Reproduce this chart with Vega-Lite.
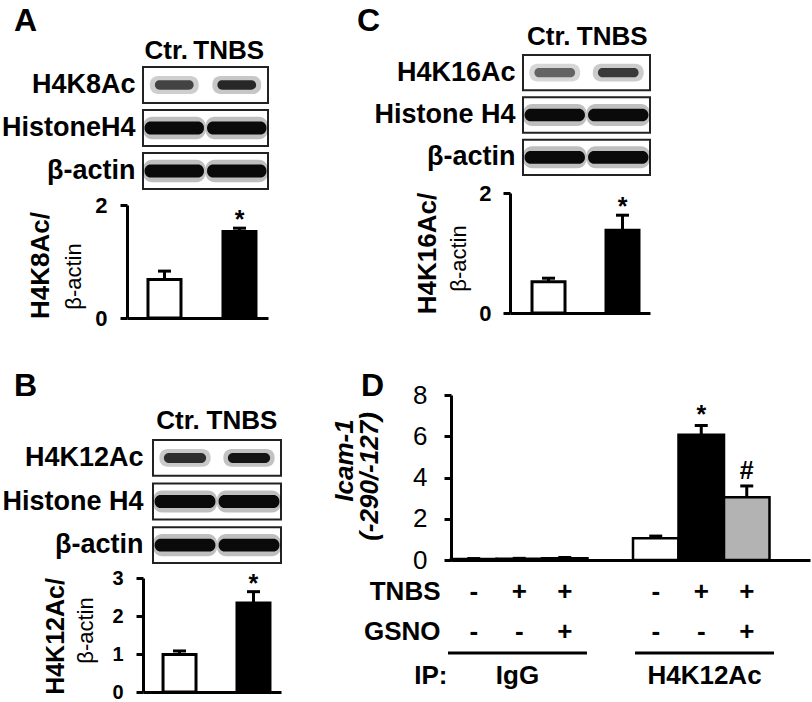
{
  "$schema": "https://vega.github.io/schema/vega-lite/v6.json",
  "width": 812,
  "height": 702,
  "autosize": {"type": "none"},
  "padding": 0,
  "background": "white",
  "config": {
    "view": {"stroke": null},
    "font": "Liberation Sans",
    "axis": {"grid": false, "labelFont": "Liberation Sans", "titleFont": "Liberation Sans", "labelColor": "black", "titleColor": "black", "domainColor": "black", "tickColor": "black"}
  },
  "datasets": {
    "blots": [
      {"panel": "A", "row": "H4K8Ac", "kind": "acetyl", "lane": "Ctr.", "intensity": 0.75},
      {"panel": "A", "row": "H4K8Ac", "kind": "acetyl", "lane": "TNBS", "intensity": 0.88},
      {"panel": "A", "row": "HistoneH4", "kind": "histone", "lane": "Ctr.", "intensity": 1},
      {"panel": "A", "row": "HistoneH4", "kind": "histone", "lane": "TNBS", "intensity": 1},
      {"panel": "A", "row": "β-actin", "kind": "actin", "lane": "Ctr.", "intensity": 1},
      {"panel": "A", "row": "β-actin", "kind": "actin", "lane": "TNBS", "intensity": 1},
      {"panel": "B", "row": "H4K12Ac", "kind": "acetyl", "lane": "Ctr.", "intensity": 0.85},
      {"panel": "B", "row": "H4K12Ac", "kind": "acetyl", "lane": "TNBS", "intensity": 0.97},
      {"panel": "B", "row": "Histone H4", "kind": "histone", "lane": "Ctr.", "intensity": 1},
      {"panel": "B", "row": "Histone H4", "kind": "histone", "lane": "TNBS", "intensity": 1},
      {"panel": "B", "row": "β-actin", "kind": "actin", "lane": "Ctr.", "intensity": 1},
      {"panel": "B", "row": "β-actin", "kind": "actin", "lane": "TNBS", "intensity": 1},
      {"panel": "C", "row": "H4K16Ac", "kind": "acetyl", "lane": "Ctr.", "intensity": 0.6},
      {"panel": "C", "row": "H4K16Ac", "kind": "acetyl", "lane": "TNBS", "intensity": 0.8},
      {"panel": "C", "row": "Histone H4", "kind": "histone", "lane": "Ctr.", "intensity": 1},
      {"panel": "C", "row": "Histone H4", "kind": "histone", "lane": "TNBS", "intensity": 1},
      {"panel": "C", "row": "β-actin", "kind": "actin", "lane": "Ctr.", "intensity": 1},
      {"panel": "C", "row": "β-actin", "kind": "actin", "lane": "TNBS", "intensity": 1}
    ],
    "bars": [
      {"panel": "A", "group": "Ctr", "value": 0.68, "upper": 0.83, "sig": ""},
      {"panel": "A", "group": "TNBS", "value": 1.53, "upper": 1.59, "sig": "*"},
      {"panel": "B", "group": "Ctr", "value": 0.99, "upper": 1.08, "sig": ""},
      {"panel": "B", "group": "TNBS", "value": 2.34, "upper": 2.64, "sig": "*"},
      {"panel": "C", "group": "Ctr", "value": 0.52, "upper": 0.58, "sig": ""},
      {"panel": "C", "group": "TNBS", "value": 1.38, "upper": 1.63, "sig": "*"}
    ],
    "chip": [
      {"cond": "IgG-Ctr", "ip": "IgG", "treat": "Ctr", "value": 0.05, "upper": 0.07, "sig": ""},
      {"cond": "IgG-TNBS", "ip": "IgG", "treat": "TNBS", "value": 0.06, "upper": 0.08, "sig": ""},
      {"cond": "IgG-TNBS+GSNO", "ip": "IgG", "treat": "TNBS+GSNO", "value": 0.09, "upper": 0.12, "sig": ""},
      {"cond": "H4K12Ac-Ctr", "ip": "H4K12Ac", "treat": "Ctr", "value": 1.05, "upper": 1.16, "sig": ""},
      {"cond": "H4K12Ac-TNBS", "ip": "H4K12Ac", "treat": "TNBS", "value": 6.07, "upper": 6.52, "sig": "*"},
      {"cond": "H4K12Ac-TNBS+GSNO", "ip": "H4K12Ac", "treat": "TNBS+GSNO", "value": 3.04, "upper": 3.59, "sig": "#"}
    ],
    "design": [
      {"cond": "IgG-Ctr", "factor": "TNBS", "sign": "-"},
      {"cond": "IgG-Ctr", "factor": "GSNO", "sign": "-"},
      {"cond": "IgG-TNBS", "factor": "TNBS", "sign": "+"},
      {"cond": "IgG-TNBS", "factor": "GSNO", "sign": "-"},
      {"cond": "IgG-TNBS+GSNO", "factor": "TNBS", "sign": "+"},
      {"cond": "IgG-TNBS+GSNO", "factor": "GSNO", "sign": "+"},
      {"cond": "H4K12Ac-Ctr", "factor": "TNBS", "sign": "-"},
      {"cond": "H4K12Ac-Ctr", "factor": "GSNO", "sign": "-"},
      {"cond": "H4K12Ac-TNBS", "factor": "TNBS", "sign": "+"},
      {"cond": "H4K12Ac-TNBS", "factor": "GSNO", "sign": "-"},
      {"cond": "H4K12Ac-TNBS+GSNO", "factor": "TNBS", "sign": "+"},
      {"cond": "H4K12Ac-TNBS+GSNO", "factor": "GSNO", "sign": "+"}
    ],
    "ipgroups": [
      {"ip": "IgG"},
      {"ip": "H4K12Ac"}
    ]
  },
  "layer": [
    {
      "data": {"name": "blots"},
      "transform": [{"filter": "datum.panel === 'A' && datum.lane === 'Ctr.'"}],
      "mark": {"type": "rect", "fill": "white", "stroke": "#222", "strokeWidth": 2, "opacity": 1},
      "encoding": {
        "x": {"field": "panel", "type": "nominal", "scale": {"type": "band", "domain": ["A"], "range": [143, 268], "paddingInner": 0, "paddingOuter": 0}, "axis": null},
        "y": {"field": "row", "type": "nominal", "scale": {"type": "band", "domain": ["H4K8Ac", "HistoneH4", "β-actin"], "range": [67, 189], "paddingInner": 0.163, "paddingOuter": 0},
          "axis": {"orient": "left", "offset": 0, "labels": false, "ticks": false, "tickSize": 0, "domain": false, "title": "A", "titleAngle": 0, "titleX": 25, "titleY": 20, "titleFontSize": 32, "titleFontWeight": "bold", "titleAlign": "center", "titleBaseline": "middle"}}
      }
    },
    {
      "data": {"name": "blots"},
      "transform": [{"filter": "datum.panel === 'A'"}],
      "encoding": {
        "x": {"field": "lane", "type": "nominal", "scale": {"type": "band", "domain": ["Ctr.", "TNBS"], "range": [143, 268], "paddingInner": 0, "paddingOuter": 0},
          "axis": {"orient": "top", "offset": -67, "ticks": false, "tickSize": 0, "domain": false, "labelFontSize": 26, "labelFontWeight": "bold", "labelPadding": 9, "labelBaseline": "alphabetic", "labelOffset": -8, "labelAngle": 0, "title": null}},
        "y": {"field": "row", "type": "nominal", "scale": {"type": "band", "domain": ["H4K8Ac", "HistoneH4", "β-actin"], "range": [67, 189], "paddingInner": 0.163, "paddingOuter": 0},
          "axis": {"orient": "left", "offset": -143, "ticks": false, "tickSize": 0, "domain": false, "labelFontSize": 27, "labelFontWeight": "bold", "labelPadding": 8, "title": null}},
        "color": {"field": "intensity", "type": "quantitative", "scale": {"domain": [0, 1], "range": ["#ffffff", "#000000"]}, "legend": null}
      },
      "layer": [
        {"transform": [{"filter": "datum.kind !== 'acetyl'"}], "mark": {"type": "rect", "cornerRadius": 9, "opacity": 0.25, "width": {"band": 1}, "height": {"band": 0.62}}},
        {"transform": [{"filter": "datum.kind !== 'acetyl'"}], "mark": {"type": "rect", "cornerRadius": 6, "opacity": 0.95, "width": {"band": 0.95}, "height": {"band": 0.36}}},
        {"transform": [{"filter": "datum.kind === 'acetyl'"}], "mark": {"type": "rect", "cornerRadius": 8, "opacity": 0.25, "width": {"band": 0.78}, "height": {"band": 0.5}}},
        {"transform": [{"filter": "datum.kind === 'acetyl'"}], "mark": {"type": "rect", "cornerRadius": 5, "opacity": 0.95, "width": {"band": 0.62}, "height": {"band": 0.26}}}
      ]
    },
    {
      "data": {"name": "bars"},
      "transform": [{"filter": "datum.panel === 'A'"}],
      "encoding": {
        "x": {"field": "group", "type": "nominal", "scale": {"type": "band", "domain": ["Ctr", "TNBS"], "range": [127, 268], "paddingInner": 0.56, "paddingOuter": 0.22, "align": 0.636},
          "axis": {"orient": "bottom", "offset": -384, "labels": false, "ticks": false, "tickSize": 0, "domainWidth": 3, "title": null}}
      },
      "layer": [
        {"mark": {"type": "bar", "stroke": "black", "strokeWidth": 3, "opacity": 1},
          "encoding": {
            "y": {"field": "value", "type": "quantitative", "stack": null, "scale": {"domain": [0, 2], "range": [318, 205], "nice": false},
              "axis": {"orient": "left", "offset": -127, "values": [0, 1, 2], "format": "d", "tickSize": 7, "tickWidth": 3, "domainWidth": 3, "labelFontSize": 22, "labelFontWeight": "bold", "labelPadding": 13, "title": "H4K8Ac/", "titleFontSize": 26, "titleFontWeight": "bold", "titleAngle": -90, "titleX": -87, "titleY": 265, "titleAlign": "center", "titleBaseline": "middle"}},
            "fill": {"field": "group", "type": "nominal", "scale": {"domain": ["Ctr", "TNBS"], "range": ["white", "black"]}, "legend": null}
          }},
        {"mark": {"type": "rule", "color": "black", "strokeWidth": 3, "opacity": 1},
          "encoding": {
            "y": {"field": "value", "type": "quantitative", "axis": {"orient": "left", "offset": -127, "labels": false, "ticks": false, "tickSize": 0, "domain": false, "title": "β-actin", "titleFontSize": 22, "titleFontWeight": "normal", "titleAngle": -90, "titleX": -54, "titleY": 276, "titleAlign": "center", "titleBaseline": "middle"}},
            "y2": {"field": "upper"}
          }},
        {"mark": {"type": "tick", "color": "black", "thickness": 3, "size": 13, "opacity": 1},
          "encoding": {"y": {"field": "upper", "type": "quantitative", "axis": null}}},
        {"mark": {"type": "text", "fontSize": 25, "fontWeight": "bold", "baseline": "alphabetic", "color": "black"},
          "encoding": {"y": {"field": "upper", "type": "quantitative", "axis": null}, "text": {"field": "sig"}}}
      ],
      "resolve": {"axis": {"y": "independent"}}
    },
    {
      "data": {"name": "blots"},
      "transform": [{"filter": "datum.panel === 'B' && datum.lane === 'Ctr.'"}],
      "mark": {"type": "rect", "fill": "white", "stroke": "#222", "strokeWidth": 2, "opacity": 1},
      "encoding": {
        "x": {"field": "panel", "type": "nominal", "scale": {"type": "band", "domain": ["B"], "range": [153, 281], "paddingInner": 0, "paddingOuter": 0}, "axis": null},
        "y": {"field": "row", "type": "nominal", "scale": {"type": "band", "domain": ["H4K12Ac", "Histone H4", "β-actin"], "range": [440, 563], "paddingInner": 0.18, "paddingOuter": 0},
          "axis": {"orient": "left", "offset": 0, "labels": false, "ticks": false, "tickSize": 0, "domain": false, "title": "B", "titleAngle": 0, "titleX": 25, "titleY": 385, "titleFontSize": 32, "titleFontWeight": "bold", "titleAlign": "center", "titleBaseline": "middle"}}
      }
    },
    {
      "data": {"name": "blots"},
      "transform": [{"filter": "datum.panel === 'B'"}],
      "encoding": {
        "x": {"field": "lane", "type": "nominal", "scale": {"type": "band", "domain": ["Ctr.", "TNBS"], "range": [153, 281], "paddingInner": 0, "paddingOuter": 0},
          "axis": {"orient": "top", "offset": -440, "ticks": false, "tickSize": 0, "domain": false, "labelFontSize": 26, "labelFontWeight": "bold", "labelPadding": 12, "labelBaseline": "alphabetic", "labelOffset": -7, "labelAngle": 0, "title": null}},
        "y": {"field": "row", "type": "nominal", "scale": {"type": "band", "domain": ["H4K12Ac", "Histone H4", "β-actin"], "range": [440, 563], "paddingInner": 0.18, "paddingOuter": 0},
          "axis": {"orient": "left", "offset": -153, "ticks": false, "tickSize": 0, "domain": false, "labelFontSize": 27, "labelFontWeight": "bold", "labelPadding": 10, "title": null}},
        "color": {"field": "intensity", "type": "quantitative", "scale": {"domain": [0, 1], "range": ["#ffffff", "#000000"]}, "legend": null}
      },
      "layer": [
        {"transform": [{"filter": "datum.kind !== 'acetyl'"}], "mark": {"type": "rect", "cornerRadius": 9, "opacity": 0.25, "width": {"band": 1}, "height": {"band": 0.62}}},
        {"transform": [{"filter": "datum.kind !== 'acetyl'"}], "mark": {"type": "rect", "cornerRadius": 6, "opacity": 0.95, "width": {"band": 0.95}, "height": {"band": 0.36}}},
        {"transform": [{"filter": "datum.kind === 'acetyl'"}], "mark": {"type": "rect", "cornerRadius": 8, "opacity": 0.25, "width": {"band": 0.8}, "height": {"band": 0.5}}},
        {"transform": [{"filter": "datum.kind === 'acetyl'"}], "mark": {"type": "rect", "cornerRadius": 5, "opacity": 0.95, "width": {"band": 0.66}, "height": {"band": 0.28}}}
      ]
    },
    {
      "data": {"name": "bars"},
      "transform": [{"filter": "datum.panel === 'B'"}],
      "encoding": {
        "x": {"field": "group", "type": "nominal", "scale": {"type": "band", "domain": ["Ctr", "TNBS"], "range": [143, 281], "paddingInner": 0.554, "paddingOuter": 0.21, "align": 0.645},
          "axis": {"orient": "bottom", "offset": -10, "labels": false, "ticks": false, "tickSize": 0, "domainWidth": 3, "title": null}}
      },
      "layer": [
        {"mark": {"type": "bar", "stroke": "black", "strokeWidth": 3, "opacity": 1},
          "encoding": {
            "y": {"field": "value", "type": "quantitative", "stack": null, "scale": {"domain": [0, 3], "range": [692, 578], "nice": false},
              "axis": {"orient": "left", "offset": -143, "values": [0, 1, 2, 3], "format": "d", "tickSize": 7, "tickWidth": 3, "domainWidth": 3, "labelFontSize": 20, "labelFontWeight": "bold", "labelPadding": 13, "title": "H4K12Ac/", "titleFontSize": 25, "titleFontWeight": "bold", "titleAngle": -90, "titleX": -88, "titleY": 636, "titleAlign": "center", "titleBaseline": "middle"}},
            "fill": {"field": "group", "type": "nominal", "scale": {"domain": ["Ctr", "TNBS"], "range": ["white", "black"]}, "legend": null}
          }},
        {"mark": {"type": "rule", "color": "black", "strokeWidth": 3, "opacity": 1},
          "encoding": {
            "y": {"field": "value", "type": "quantitative", "axis": {"orient": "left", "offset": -143, "labels": false, "ticks": false, "tickSize": 0, "domain": false, "title": "β-actin", "titleFontSize": 22, "titleFontWeight": "normal", "titleAngle": -90, "titleX": -58, "titleY": 630, "titleAlign": "center", "titleBaseline": "middle"}},
            "y2": {"field": "upper"}
          }},
        {"mark": {"type": "tick", "color": "black", "thickness": 3, "size": 13, "opacity": 1},
          "encoding": {"y": {"field": "upper", "type": "quantitative", "axis": null}}},
        {"mark": {"type": "text", "fontSize": 25, "fontWeight": "bold", "baseline": "alphabetic", "color": "black"},
          "encoding": {"y": {"field": "upper", "type": "quantitative", "axis": null}, "text": {"field": "sig"}}}
      ],
      "resolve": {"axis": {"y": "independent"}}
    },
    {
      "data": {"name": "blots"},
      "transform": [{"filter": "datum.panel === 'C' && datum.lane === 'Ctr.'"}],
      "mark": {"type": "rect", "fill": "white", "stroke": "#222", "strokeWidth": 2, "opacity": 1},
      "encoding": {
        "x": {"field": "panel", "type": "nominal", "scale": {"type": "band", "domain": ["C"], "range": [523, 650], "paddingInner": 0, "paddingOuter": 0}, "axis": null},
        "y": {"field": "row", "type": "nominal", "scale": {"type": "band", "domain": ["H4K16Ac", "Histone H4", "β-actin"], "range": [55, 175], "paddingInner": 0.165, "paddingOuter": 0},
          "axis": {"orient": "left", "offset": 0, "labels": false, "ticks": false, "tickSize": 0, "domain": false, "title": "C", "titleAngle": 0, "titleX": 368, "titleY": 20, "titleFontSize": 32, "titleFontWeight": "bold", "titleAlign": "center", "titleBaseline": "middle"}}
      }
    },
    {
      "data": {"name": "blots"},
      "transform": [{"filter": "datum.panel === 'C'"}],
      "encoding": {
        "x": {"field": "lane", "type": "nominal", "scale": {"type": "band", "domain": ["Ctr.", "TNBS"], "range": [523, 650], "paddingInner": 0, "paddingOuter": 0},
          "axis": {"orient": "top", "offset": -55, "ticks": false, "tickSize": 0, "domain": false, "labelFontSize": 26, "labelFontWeight": "bold", "labelPadding": 11, "labelBaseline": "alphabetic", "labelOffset": -6, "labelAngle": 0, "title": null}},
        "y": {"field": "row", "type": "nominal", "scale": {"type": "band", "domain": ["H4K16Ac", "Histone H4", "β-actin"], "range": [55, 175], "paddingInner": 0.165, "paddingOuter": 0},
          "axis": {"orient": "left", "offset": -523, "ticks": false, "tickSize": 0, "domain": false, "labelFontSize": 27, "labelFontWeight": "bold", "labelPadding": 8, "title": null}},
        "color": {"field": "intensity", "type": "quantitative", "scale": {"domain": [0, 1], "range": ["#ffffff", "#000000"]}, "legend": null}
      },
      "layer": [
        {"transform": [{"filter": "datum.kind !== 'acetyl'"}], "mark": {"type": "rect", "cornerRadius": 9, "opacity": 0.25, "width": {"band": 1}, "height": {"band": 0.62}}},
        {"transform": [{"filter": "datum.kind !== 'acetyl'"}], "mark": {"type": "rect", "cornerRadius": 6, "opacity": 0.95, "width": {"band": 0.95}, "height": {"band": 0.36}}},
        {"transform": [{"filter": "datum.kind === 'acetyl'"}], "mark": {"type": "rect", "cornerRadius": 8, "opacity": 0.25, "width": {"band": 0.8}, "height": {"band": 0.5}}},
        {"transform": [{"filter": "datum.kind === 'acetyl'"}], "mark": {"type": "rect", "cornerRadius": 5, "opacity": 0.95, "width": {"band": 0.64}, "height": {"band": 0.26}}}
      ]
    },
    {
      "data": {"name": "bars"},
      "transform": [{"filter": "datum.panel === 'C'"}],
      "encoding": {
        "x": {"field": "group", "type": "nominal", "scale": {"type": "band", "domain": ["Ctr", "TNBS"], "range": [510, 650], "paddingInner": 0.554, "paddingOuter": 0.223, "align": 0.667},
          "axis": {"orient": "bottom", "offset": -389, "labels": false, "ticks": false, "tickSize": 0, "domainWidth": 3, "title": null}}
      },
      "layer": [
        {"mark": {"type": "bar", "stroke": "black", "strokeWidth": 3, "opacity": 1},
          "encoding": {
            "y": {"field": "value", "type": "quantitative", "stack": null, "scale": {"domain": [0, 2], "range": [313, 193], "nice": false},
              "axis": {"orient": "left", "offset": -510, "values": [0, 1, 2], "format": "d", "tickSize": 7, "tickWidth": 3, "domainWidth": 3, "labelFontSize": 22, "labelFontWeight": "bold", "labelPadding": 12, "title": "H4K16Ac/", "titleFontSize": 26, "titleFontWeight": "bold", "titleAngle": -90, "titleX": -83, "titleY": 253, "titleAlign": "center", "titleBaseline": "middle"}},
            "fill": {"field": "group", "type": "nominal", "scale": {"domain": ["Ctr", "TNBS"], "range": ["white", "black"]}, "legend": null}
          }},
        {"mark": {"type": "rule", "color": "black", "strokeWidth": 3, "opacity": 1},
          "encoding": {
            "y": {"field": "value", "type": "quantitative", "axis": {"orient": "left", "offset": -510, "labels": false, "ticks": false, "tickSize": 0, "domain": false, "title": "β-actin", "titleFontSize": 22, "titleFontWeight": "normal", "titleAngle": -90, "titleX": -52, "titleY": 258, "titleAlign": "center", "titleBaseline": "middle"}},
            "y2": {"field": "upper"}
          }},
        {"mark": {"type": "tick", "color": "black", "thickness": 3, "size": 13, "opacity": 1},
          "encoding": {"y": {"field": "upper", "type": "quantitative", "axis": null}}},
        {"mark": {"type": "text", "fontSize": 25, "fontWeight": "bold", "baseline": "alphabetic", "color": "black"},
          "encoding": {"y": {"field": "upper", "type": "quantitative", "axis": null}, "text": {"field": "sig"}}}
      ],
      "resolve": {"axis": {"y": "independent"}}
    },
    {
      "data": {"name": "chip"},
      "encoding": {
        "x": {"field": "cond", "type": "nominal", "scale": {"type": "band", "domain": ["IgG-Ctr", "IgG-TNBS", "IgG-TNBS+GSNO", "spacer", "H4K12Ac-Ctr", "H4K12Ac-TNBS", "H4K12Ac-TNBS+GSNO"], "range": [451, 810], "paddingInner": 0, "paddingOuter": 0.445, "align": 0},
          "axis": {"orient": "bottom", "offset": -142, "labels": false, "ticks": false, "tickSize": 0, "domainWidth": 3, "title": null}}
      },
      "layer": [
        {"mark": {"type": "bar", "stroke": "black", "strokeWidth": 2.5, "opacity": 1},
          "encoding": {
            "y": {"field": "value", "type": "quantitative", "stack": null, "scale": {"domain": [0, 8], "range": [560, 395], "nice": false},
              "axis": {"orient": "left", "offset": -451, "values": [0, 2, 4, 6, 8], "format": "d", "tickSize": 7, "tickWidth": 3, "domainWidth": 3, "labelFontSize": 26, "labelFontWeight": "normal", "labelPadding": 17, "title": "Icam-1", "titleFontSize": 26, "titleFontWeight": "bold", "titleFontStyle": "italic", "titleAngle": -90, "titleX": -107, "titleY": 460, "titleAlign": "center", "titleBaseline": "middle"}},
            "fill": {"field": "treat", "type": "nominal", "scale": {"domain": ["Ctr", "TNBS", "TNBS+GSNO"], "range": ["white", "black", "#b3b3b3"]}, "legend": null}
          }},
        {"mark": {"type": "rule", "color": "black", "strokeWidth": 3, "opacity": 1},
          "encoding": {
            "y": {"field": "value", "type": "quantitative", "axis": {"orient": "left", "offset": -451, "labels": false, "ticks": false, "tickSize": 0, "domain": false, "title": "(-290/-127)", "titleFontSize": 26, "titleFontWeight": "bold", "titleFontStyle": "italic", "titleAngle": -90, "titleX": -82, "titleY": 476, "titleAlign": "center", "titleBaseline": "middle"}},
            "y2": {"field": "upper"}
          }},
        {"mark": {"type": "tick", "color": "black", "thickness": 3, "size": 13, "opacity": 1},
          "encoding": {"y": {"field": "upper", "type": "quantitative", "axis": null}}},
        {"transform": [{"filter": "datum.sig === '*'"}],
          "mark": {"type": "text", "fontSize": 25, "fontWeight": "bold", "baseline": "alphabetic", "dy": -3, "color": "black"},
          "encoding": {"y": {"field": "upper", "type": "quantitative", "axis": null}, "text": {"field": "sig"}}},
        {"transform": [{"filter": "datum.sig === '#'"}],
          "mark": {"type": "text", "fontSize": 25, "fontWeight": "bold", "baseline": "alphabetic", "dy": -7, "color": "black"},
          "encoding": {"y": {"field": "upper", "type": "quantitative", "axis": null}, "text": {"field": "sig"}}}
      ],
      "resolve": {"axis": {"y": "independent"}}
    },
    {
      "data": {"name": "design"},
      "mark": {"type": "text", "fontSize": 26, "fontWeight": "bold", "color": "black"},
      "encoding": {
        "x": {"field": "cond", "type": "nominal", "scale": {"type": "band", "domain": ["IgG-Ctr", "IgG-TNBS", "IgG-TNBS+GSNO", "spacer", "H4K12Ac-Ctr", "H4K12Ac-TNBS", "H4K12Ac-TNBS+GSNO"], "range": [451, 810], "paddingInner": 0, "paddingOuter": 0.445, "align": 0}, "axis": null},
        "y": {"field": "factor", "type": "nominal", "scale": {"type": "band", "domain": ["TNBS", "GSNO"], "range": [572, 652], "paddingInner": 0, "paddingOuter": 0},
          "axis": {"orient": "left", "offset": -451, "ticks": false, "tickSize": 0, "domain": false, "labelFontSize": 26, "labelFontWeight": "bold", "labelPadding": 11, "title": null}},
        "text": {"field": "sign"}
      }
    },
    {
      "data": {"name": "ipgroups"},
      "mark": {"type": "rect", "color": "black", "opacity": 1},
      "encoding": {
        "x": {"field": "ip", "type": "nominal", "scale": {"type": "band", "domain": ["IgG", "H4K12Ac"], "range": [448, 774], "paddingInner": 0.257, "paddingOuter": 0},
          "axis": {"orient": "bottom", "offset": -48, "ticks": false, "tickSize": 0, "domain": false, "labelFontSize": 26, "labelFontWeight": "bold", "labelPadding": 29, "labelBaseline": "alphabetic", "labelAngle": 0, "title": "IP:", "titleFontSize": 26, "titleFontWeight": "bold", "titleX": 447, "titleY": 29, "titleAlign": "right", "titleBaseline": "alphabetic"}},
        "y": {"datum": "line", "type": "nominal", "scale": {"type": "band", "domain": ["line"], "range": [651.5, 654.5], "paddingInner": 0, "paddingOuter": 0},
          "axis": {"orient": "left", "offset": 0, "labels": false, "ticks": false, "tickSize": 0, "domain": false, "title": "D", "titleAngle": 0, "titleX": 372, "titleY": 385, "titleFontSize": 32, "titleFontWeight": "bold", "titleAlign": "center", "titleBaseline": "middle"}}
      }
    }
  ],
  "resolve": {
    "scale": {"x": "independent", "y": "independent", "color": "independent", "fill": "independent"},
    "axis": {"x": "independent", "y": "independent"}
  }
}
